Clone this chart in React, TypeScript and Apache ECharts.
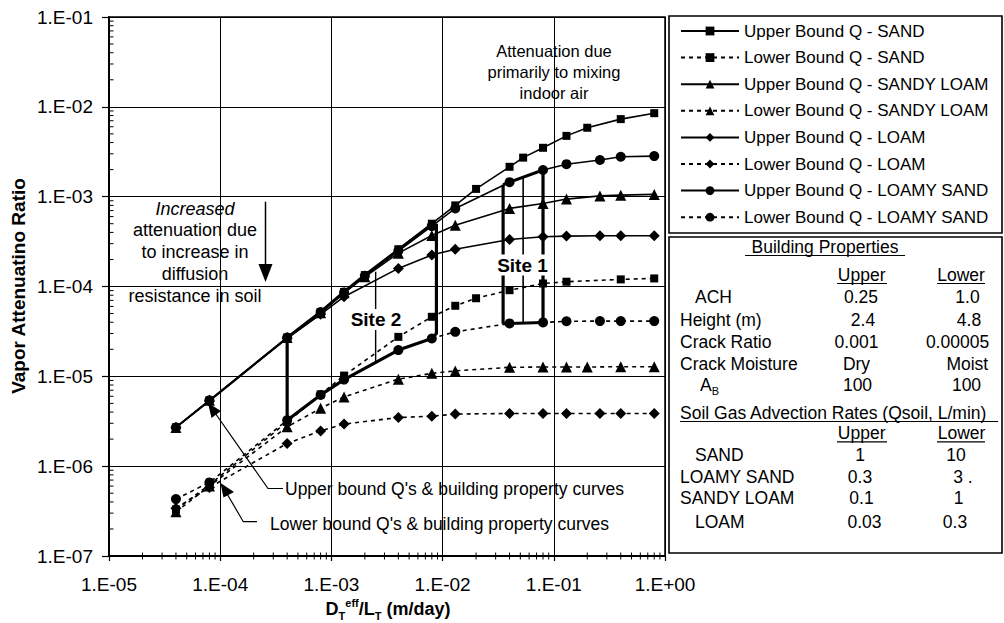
import React, { useEffect, useRef } from "react";
import * as echarts from "echarts";

// ---------- axis tick labels ----------
const xTickLabels = ["1.E-05", "1.E-04", "1.E-03", "1.E-02", "1.E-01", "1.E+00"];
const yTickLabels = ["1.E-07", "1.E-06", "1.E-05", "1.E-04", "1.E-03", "1.E-02", "1.E-01"];
const minorMultipliers = [2, 3, 4, 5, 6, 7, 8, 9];
const xDecades = [1e-5, 1e-4, 1e-3, 1e-2, 1e-1];
const yDecades = [1e-7, 1e-6, 1e-5, 1e-4, 1e-3, 1e-2];

// ---------- series data: [DTeff/LT (m/day), vapor attenuation ratio] ----------
const upperSand = [
  [4e-5, 2.7e-6], [8e-5, 5.4e-6], [4e-4, 2.7e-5], [8e-4, 5.2e-5], [1.3e-3, 8.7e-5],
  [2e-3, 1.34e-4], [4e-3, 2.6e-4], [8e-3, 5.0e-4], [1.3e-2, 8.0e-4], [2e-2, 1.22e-3],
  [4e-2, 2.15e-3], [5.3e-2, 2.72e-3], [8e-2, 3.5e-3], [1.3e-1, 4.75e-3], [2e-1, 5.85e-3],
  [4e-1, 7.3e-3], [8e-1, 8.5e-3],
];
const lowerSand = [
  [4e-5, 3.3e-7], [8e-5, 6.2e-7], [4e-4, 3.1e-6], [8e-4, 6.3e-6], [1.3e-3, 1.02e-5],
  [4e-3, 2.75e-5], [8e-3, 4.6e-5], [1.3e-2, 6.1e-5], [2e-2, 7.4e-5], [4e-2, 9.1e-5],
  [8e-2, 1.08e-4], [1.3e-1, 1.13e-4], [4e-1, 1.2e-4], [8e-1, 1.23e-4],
];
const upperSandyLoam = [
  [4e-5, 2.7e-6], [8e-5, 5.4e-6], [4e-4, 2.7e-5], [8e-4, 5.1e-5], [1.3e-3, 8.5e-5],
  [2e-3, 1.28e-4], [4e-3, 2.35e-4], [8e-3, 3.7e-4], [1.3e-2, 4.8e-4], [4e-2, 7.4e-4],
  [8e-2, 8.4e-4], [1.3e-1, 9.4e-4], [2.6e-1, 1.02e-3], [4e-1, 1.04e-3], [8e-1, 1.06e-3],
];
const lowerSandyLoam = [
  [4e-5, 3.1e-7], [8e-5, 6.0e-7], [4e-4, 2.74e-6], [8e-4, 4.4e-6], [1.3e-3, 5.9e-6],
  [4e-3, 9.3e-6], [8e-3, 1.08e-5], [1.3e-2, 1.15e-5], [4e-2, 1.26e-5], [8e-2, 1.27e-5],
  [1.3e-1, 1.27e-5], [2e-1, 1.27e-5], [4e-1, 1.28e-5], [8e-1, 1.28e-5],
];
const upperLoam = [
  [4e-5, 2.7e-6], [8e-5, 5.3e-6], [4e-4, 2.65e-5], [8e-4, 4.9e-5], [1.3e-3, 7.7e-5],
  [4e-3, 1.59e-4], [8e-3, 2.24e-4], [1.3e-2, 2.6e-4], [4e-2, 3.34e-4], [8e-2, 3.58e-4],
  [1.3e-1, 3.64e-4], [2.6e-1, 3.67e-4], [4e-1, 3.67e-4], [8e-1, 3.67e-4],
];
const lowerLoam = [
  [4e-5, 3.4e-7], [8e-5, 5.8e-7], [4e-4, 1.79e-6], [8e-4, 2.47e-6], [1.3e-3, 2.94e-6],
  [4e-3, 3.48e-6], [8e-3, 3.6e-6], [1.3e-2, 3.8e-6], [4e-2, 3.86e-6], [8e-2, 3.86e-6],
  [1.3e-1, 3.86e-6], [2.6e-1, 3.86e-6], [4e-1, 3.86e-6], [8e-1, 3.86e-6],
];
const upperLoamySand = [
  [4e-5, 2.7e-6], [8e-5, 5.4e-6], [4e-4, 2.7e-5], [8e-4, 5.2e-5], [1.3e-3, 8.6e-5],
  [2e-3, 1.32e-4], [4e-3, 2.5e-4], [8e-3, 4.7e-4], [1.3e-2, 7.4e-4], [4e-2, 1.45e-3],
  [8e-2, 1.98e-3], [1.3e-1, 2.3e-3], [2.6e-1, 2.56e-3], [4e-1, 2.78e-3], [8e-1, 2.83e-3],
];
const lowerLoamySand = [
  [4e-5, 4.3e-7], [8e-5, 6.6e-7], [4e-4, 3.25e-6], [8e-4, 6.2e-6], [1.3e-3, 9.2e-6],
  [4e-3, 1.96e-5], [8e-3, 2.64e-5], [1.3e-2, 3.13e-5], [4e-2, 3.88e-5], [8e-2, 3.98e-5],
  [1.3e-1, 4.1e-5], [2.6e-1, 4.12e-5], [4e-1, 4.12e-5], [8e-1, 4.12e-5],
];

const seriesNames = [
  "Upper Bound Q - SAND",
  "Lower Bound Q - SAND",
  "Upper Bound Q - SANDY LOAM",
  "Lower Bound Q - SANDY LOAM",
  "Upper Bound Q - LOAM",
  "Lower Bound Q - LOAM",
  "Upper Bound Q - LOAMY SAND",
  "Lower Bound Q - LOAMY SAND",
];
const seriesData = [
  upperSand, lowerSand, upperSandyLoam, lowerSandyLoam,
  upperLoam, lowerLoam, upperLoamySand, lowerLoamySand,
];
const seriesSymbols = ["rect", "rect", "triangle", "triangle", "diamond", "diamond", "circle", "circle"];

// ---------- site outlines (data coordinates) ----------
const site2Top = [[4e-4, 2.7e-5], [8e-4, 5.2e-5], [1.3e-3, 8.7e-5], [2e-3, 1.34e-4], [4e-3, 2.55e-4], [8e-3, 4.9e-4]];
const site2Left = [[4e-4, 2.7e-5], [4e-4, 3.25e-6]];
const site2Bottom = [
  [4e-4, 3.25e-6], [8e-4, 6.2e-6], [1.3e-3, 9.2e-6], [4e-3, 1.96e-5], [8e-3, 2.64e-5],
  [8.8e-3, 3.0e-5], [8.8e-3, 5.0e-4],
];
const site2Mid = [[2.5e-3, 1.46e-4], [2.5e-3, 1.43e-5]];
const site1Top = [[3.5e-2, 1.36e-3], [4e-2, 1.45e-3], [8e-2, 1.98e-3]];
const site1Bottom = [[3.5e-2, 3.85e-5], [4e-2, 3.88e-5], [8e-2, 3.98e-5]];
const site1Left = [[3.5e-2, 1.36e-3], [3.5e-2, 3.85e-5]];
const site1Mid = [[5.3e-2, 1.62e-3], [5.3e-2, 3.92e-5]];
const site1Right = [[8e-2, 1.98e-3], [8e-2, 3.98e-5]];

// ---------- building property table ----------
const buildingRows = [
  ["ACH", "0.25", "1.0"],
  ["Height (m)", "2.4", "4.8"],
  ["Crack Ratio", "0.001", "0.00005"],
  ["Crack Moisture", "Dry", "Moist"],
  ["A_B", "100", "100"],
];
const qsoilRows = [
  ["SAND", "1", "10"],
  ["LOAMY SAND", "0.3", "3 ."],
  ["SANDY LOAM", "0.1", "1"],
  ["LOAM", "0.03", "0.3"],
];

// layout of the table (pixels)
const buildingRowY = [296.7, 320, 341.7, 364, 385];
const buildingLabelX = [695, 680, 680, 680, 700];
const buildingUpperX = [861, 863, 856.5, 856.5, 857.5];
const buildingLowerX = [967.5, 969, 957.5, 967.3, 966.5];
const qsoilRowY = [455, 476.7, 498.3, 521.7];
const qsoilLabelX = [695, 680, 680, 695];
const qsoilUpperX = [860, 860, 861.5, 864.5];
const qsoilLowerX = [956, 963, 958.5, 955];

const FONT = "'Liberation Sans', Arial, Helvetica, sans-serif";

function txt(text: string, x: number, y: number, size: number, extra: any = {}, align = "left", vAlign = "middle") {
  return {
    type: "text",
    x,
    y,
    z: 50,
    silent: true,
    style: {
      text,
      fill: "#000",
      fontSize: size,
      fontFamily: FONT,
      align,
      textAlign: align,
      verticalAlign: vAlign,
      textVerticalAlign: vAlign,
      ...extra,
    },
  };
}
function hline(x1: number, x2: number, y: number, w = 1.2) {
  return { type: "line", z: 50, silent: true, shape: { x1, y1: y, x2, y2: y }, style: { stroke: "#000", lineWidth: w } };
}

export default function App() {
  const ref = useRef<HTMLDivElement>(null);

  useEffect(() => {
    document.documentElement.style.margin = "0";
    document.documentElement.style.padding = "0";
    document.body.style.margin = "0";
    document.body.style.padding = "0";
    if (!ref.current) return;
    const chart = echarts.init(ref.current, null, { renderer: "svg" });

    const soilSeries = seriesNames.map((name, i) => {
      const lower = i % 2 === 1;
      const sym = seriesSymbols[i];
      const size = sym === "rect" ? 8 : sym === "circle" ? 10 : 11;
      return {
        type: "line",
        name,
        data: seriesData[i],
        symbol: sym,
        symbolSize: size,
        showSymbol: true,
        z: 3,
        silent: true,
        lineStyle: { color: "#000", width: lower ? 1.6 : 1.6, type: lower ? [4, 4] : "solid" },
        itemStyle: { color: "#000", borderWidth: 0 },
        emphasis: { disabled: true },
      };
    });

    const outline = (data: number[][], width: number, name: string) => ({
      type: "line",
      name,
      data,
      symbol: "none",
      z: 4,
      silent: true,
      lineStyle: { color: "#000", width, type: "solid" },
      emphasis: { disabled: true },
    });

    const xMinor: number[][] = [];
    xDecades.forEach((d) => minorMultipliers.forEach((m) => xMinor.push([d * m, 1e-7])));
    const yMinor: number[][] = [];
    yDecades.forEach((d) => minorMultipliers.forEach((m) => yMinor.push([1e-5, d * m])));

    const tickSeries = (data: number[][], vertical: boolean, name: string) => ({
      type: "custom",
      name,
      data,
      silent: true,
      z: 6,
      clip: false,
      renderItem: (params: any, api: any) => {
        const p = api.coord([api.value(0), api.value(1)]);
        const shape = vertical
          ? { x1: p[0], y1: p[1] - 3.5, x2: p[0], y2: p[1] + 3.5 }
          : { x1: p[0], y1: p[1], x2: p[0] + 4.5, y2: p[1] };
        return { type: "line", shape, style: { stroke: "#000", lineWidth: 1 } };
      },
    });

    const graphics: any[] = [];
    // legend & table boxes
    graphics.push({ type: "rect", z: 40, silent: true, shape: { x: 669, y: 16, width: 333, height: 217 }, style: { fill: "none", stroke: "#000", lineWidth: 1.6 } });
    graphics.push({ type: "rect", z: 40, silent: true, shape: { x: 669, y: 237, width: 333, height: 316 }, style: { fill: "none", stroke: "#000", lineWidth: 1.6 } });

    // axis titles
    graphics.push({
      ...txt("Vapor Attenuatino Ratio", 18, 286, 19, { fontWeight: "bold" }, "center", "middle"),
      rotation: Math.PI / 2,
    });
    graphics.push(
      txt("{m|D}{sub|T}{sup|eff}{m|/L}{sub|T}{m| (m/day)}", 388, 609, 18, {
        fontWeight: "bold",
        rich: {
          m: { fontSize: 18, fontWeight: "bold", fontFamily: FONT, lineHeight: 24, fill: "#000", verticalAlign: "middle" },
          sub: { fontSize: 11, fontWeight: "bold", fontFamily: FONT, lineHeight: 11, fill: "#000", verticalAlign: "bottom" },
          sup: { fontSize: 11, fontWeight: "bold", fontFamily: FONT, lineHeight: 11, fill: "#000", verticalAlign: "top" },
        },
      }, "center", "middle")
    );

    // annotations
    graphics.push(txt("Attenuation due\nprimarily to mixing\nindoor air", 554, 40.5, 16.5, { lineHeight: 21 }, "center", "top"));
    graphics.push(txt("Increased", 195, 208.5, 18, { fontStyle: "italic" }, "center", "middle"));
    graphics.push(txt("attenuation due\nto increase in\ndiffusion\nresistance in soil", 195, 219.3, 18, { lineHeight: 21.8 }, "center", "top"));
    graphics.push({ type: "line", z: 50, silent: true, shape: { x1: 265.5, y1: 201.7, x2: 265.5, y2: 268 }, style: { stroke: "#000", lineWidth: 1.5 } });
    graphics.push({ type: "polygon", z: 50, silent: true, shape: { points: [[258.5, 264], [272.5, 264], [265.5, 282]] }, style: { fill: "#000" } });

    graphics.push(txt("Site 2", 376, 319.5, 19, { fontWeight: "bold", backgroundColor: "#fff", padding: [1, 2] }, "center", "middle"));
    graphics.push(txt("Site 1", 522.5, 265, 19, { fontWeight: "bold", backgroundColor: "#fff", padding: [1, 2] }, "center", "middle"));

    // leader lines with arrowheads
    graphics.push({ type: "polyline", z: 50, silent: true, shape: { points: [[213, 410], [268, 488.5], [283, 488.5]] }, style: { stroke: "#000", lineWidth: 1.2, fill: "none" } });
    graphics.push({ type: "polygon", z: 50, silent: true, shape: { points: [[208, 403], [221, 411], [211.5, 418]] }, style: { fill: "#000" } });
    graphics.push(txt("Upper bound Q's & building property curves", 285, 488.5, 17.5));
    graphics.push({ type: "polyline", z: 50, silent: true, shape: { points: [[226, 492], [243.3, 521.7], [257, 521.7]] }, style: { stroke: "#000", lineWidth: 1.2, fill: "none" } });
    graphics.push({ type: "polygon", z: 50, silent: true, shape: { points: [[220.5, 483], [234, 492], [223.5, 497.5]] }, style: { fill: "#000" } });
    graphics.push(txt("Lower bound Q's & building property curves", 270, 524, 17.5));

    // table
    const TS = 17.5;
    graphics.push(txt("Building Properties", 825, 246.7, TS, {}, "center"));
    graphics.push(hline(745, 905, 255.5));
    graphics.push(txt("Upper", 861.7, 275, TS, {}, "center"));
    graphics.push(txt("Lower", 961, 275, TS, {}, "center"));
    graphics.push(hline(837, 887, 283.5));
    graphics.push(hline(937, 985, 283.5));
    buildingRows.forEach((row, i) => {
      if (row[0] === "A_B") {
        graphics.push(
          txt("{m|A}{s|B}", buildingLabelX[i], buildingRowY[i], TS, {
            rich: {
              m: { fontSize: TS, fontFamily: FONT, lineHeight: 22, fill: "#000", verticalAlign: "middle" },
              s: { fontSize: 11, fontFamily: FONT, lineHeight: 11, fill: "#000", verticalAlign: "bottom" },
            },
          })
        );
      } else {
        graphics.push(txt(row[0], buildingLabelX[i], buildingRowY[i], TS));
      }
      graphics.push(txt(row[1], buildingUpperX[i], buildingRowY[i], TS, {}, "center"));
      graphics.push(txt(row[2], buildingLowerX[i], buildingRowY[i], TS, {}, "center"));
    });
    graphics.push(txt("Soil Gas Advection Rates (Qsoil, L/min)", 680, 413.3, TS));
    graphics.push(hline(680, 998, 421.5));
    graphics.push(txt("Upper", 861.7, 433.3, TS, {}, "center"));
    graphics.push(txt("Lower", 961.5, 433.3, TS, {}, "center"));
    graphics.push(hline(837, 887, 441.8));
    graphics.push(hline(937, 985, 441.8));
    qsoilRows.forEach((row, i) => {
      graphics.push(txt(row[0], qsoilLabelX[i], qsoilRowY[i], TS));
      graphics.push(txt(row[1], qsoilUpperX[i], qsoilRowY[i], TS, {}, "center"));
      graphics.push(txt(row[2], qsoilLowerX[i], qsoilRowY[i], TS, {}, "center"));
    });

    const option: any = {
      animation: false,
      backgroundColor: "#fff",
      grid: {
        left: 109,
        right: 339,
        top: 17,
        bottom: 67,
        containLabel: false,
        outerBoundsMode: "none",
        show: true,
        borderColor: "#000",
        borderWidth: 1.5,
        backgroundColor: "transparent",
      },
      xAxis: {
        type: "log",
        logBase: 10,
        min: 1e-5,
        max: 1,
        axisLine: { show: true, onZero: false, lineStyle: { color: "#000", width: 2 } },
        axisTick: { show: true, length: 5, inside: false, lineStyle: { color: "#000", width: 1.2 } },
        minorTick: { show: false },
        splitLine: { show: true, lineStyle: { color: "#000", width: 1 } },
        axisLabel: {
          show: true,
          showMinLabel: true,
          showMaxLabel: true,
          margin: 19,
          fontSize: 19,
          fontFamily: FONT,
          color: "#000",
          formatter: (v: number) => xTickLabels[Math.round(Math.log10(v)) + 5] ?? "",
        },
      },
      yAxis: {
        type: "log",
        logBase: 10,
        min: 1e-7,
        max: 1e-1,
        axisLine: { show: true, onZero: false, lineStyle: { color: "#000", width: 2 } },
        axisTick: { show: true, length: 7, inside: false, lineStyle: { color: "#000", width: 1.2 } },
        minorTick: { show: false },
        splitLine: { show: true, lineStyle: { color: "#000", width: 1 } },
        axisLabel: {
          show: true,
          showMinLabel: true,
          showMaxLabel: true,
          margin: 16,
          fontSize: 19,
          fontFamily: FONT,
          color: "#000",
          formatter: (v: number) => yTickLabels[Math.round(Math.log10(v)) + 7] ?? "",
        },
      },
      legend: {
        show: true,
        data: seriesNames,
        orient: "vertical",
        left: 680,
        top: 22,
        padding: 0,
        itemWidth: 58,
        itemHeight: 11,
        itemGap: 8.6,
        selectedMode: false,
        textStyle: { fontSize: 17, fontFamily: FONT, color: "#000", lineHeight: 18 },
      },
      tooltip: { show: false },
      series: [
        ...soilSeries,
        outline(site2Top, 3, "s2t"),
        outline(site2Left, 3.2, "s2l"),
        outline(site2Bottom, 3.2, "s2b"),
        outline(site2Mid, 1.4, "s2m"),
        outline(site1Top, 3, "s1t"),
        outline(site1Bottom, 3, "s1b"),
        outline(site1Left, 3.2, "s1l"),
        outline(site1Mid, 1.6, "s1m"),
        outline(site1Right, 3.2, "s1r"),
        tickSeries(xMinor, true, "xminor"),
        tickSeries(yMinor, false, "yminor"),
      ],
      graphic: { elements: graphics },
    };

    chart.setOption(option);
    return () => chart.dispose();
  }, []);

  return <div ref={ref} style={{ width: 1004, height: 623, background: "#fff" }} />;
}
